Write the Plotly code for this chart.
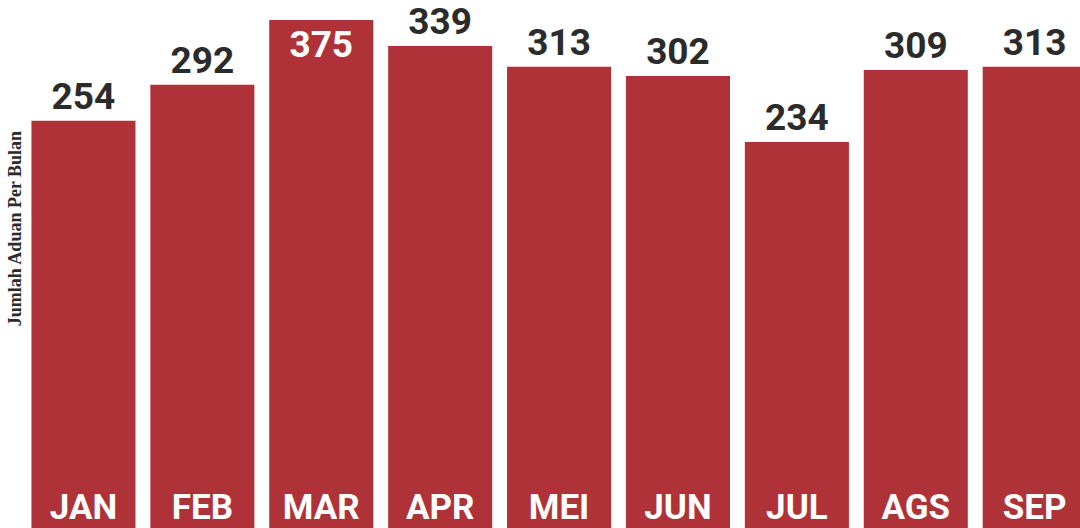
import plotly.graph_objects as go

months = ["JAN", "FEB", "MAR", "APR", "MEI", "JUN", "JUL", "AGS", "SEP"]
complaints = [254, 292, 375, 339, 313, 302, 234, 309, 313]
label_pos = ["outside", "outside", "inside", "outside", "outside", "outside", "outside", "outside", "outside"]
y_title = "Jumlah Aduan Per Bulan"

BAR = "#AF3238"
DARK = "#2B2B2B"
COND = "Roboto, Liberation Sans Narrow, DejaVu Sans Condensed, sans-serif"

fig = go.Figure(
    go.Bar(
        x=months,
        y=complaints,
        marker=dict(color=BAR, line=dict(width=0)),
        text=complaints,
        textposition=label_pos,
        insidetextanchor="end",
        insidetextfont=dict(family=COND, size=37, color="white", weight="bold"),
        outsidetextfont=dict(family=COND, size=37, color=DARK, weight="bold"),
        cliponaxis=False,
        hoverinfo="x+y",
    )
)

fig.update_layout(
    width=1080,
    height=528,
    margin=dict(l=24, r=0, t=0, b=0, autoexpand=False),
    paper_bgcolor="white",
    plot_bgcolor="white",
    bargap=0.125,
    showlegend=False,
    xaxis=dict(
        type="category",
        range=[-0.5, 8.381],
        showgrid=False,
        zeroline=False,
        showline=False,
        ticks="",
        ticklabelposition="inside",
        ticklabelstandoff=-1,
        tickfont=dict(family=COND, size=35, color="white", weight="bold"),
        automargin=False,
    ),
    yaxis=dict(
        type="log",
        range=[1.7225, 2.6074],
        showgrid=False,
        zeroline=False,
        showline=False,
        showticklabels=False,
        ticks="",
        automargin=False,
    ),
    annotations=[
        dict(
            text=y_title,
            xref="paper",
            yref="paper",
            x=0,
            xshift=-9,
            y=0.566,
            xanchor="center",
            yanchor="middle",
            textangle=-90,
            showarrow=False,
            font=dict(family="Liberation Serif, Times New Roman, serif", size=18, color=DARK, weight="bold"),
        )
    ],
)

fig.write_html(
    "out.html",
    config={"displayModeBar": False},
    post_script="document.body.style.margin='0';document.body.style.overflow='hidden';",
)
